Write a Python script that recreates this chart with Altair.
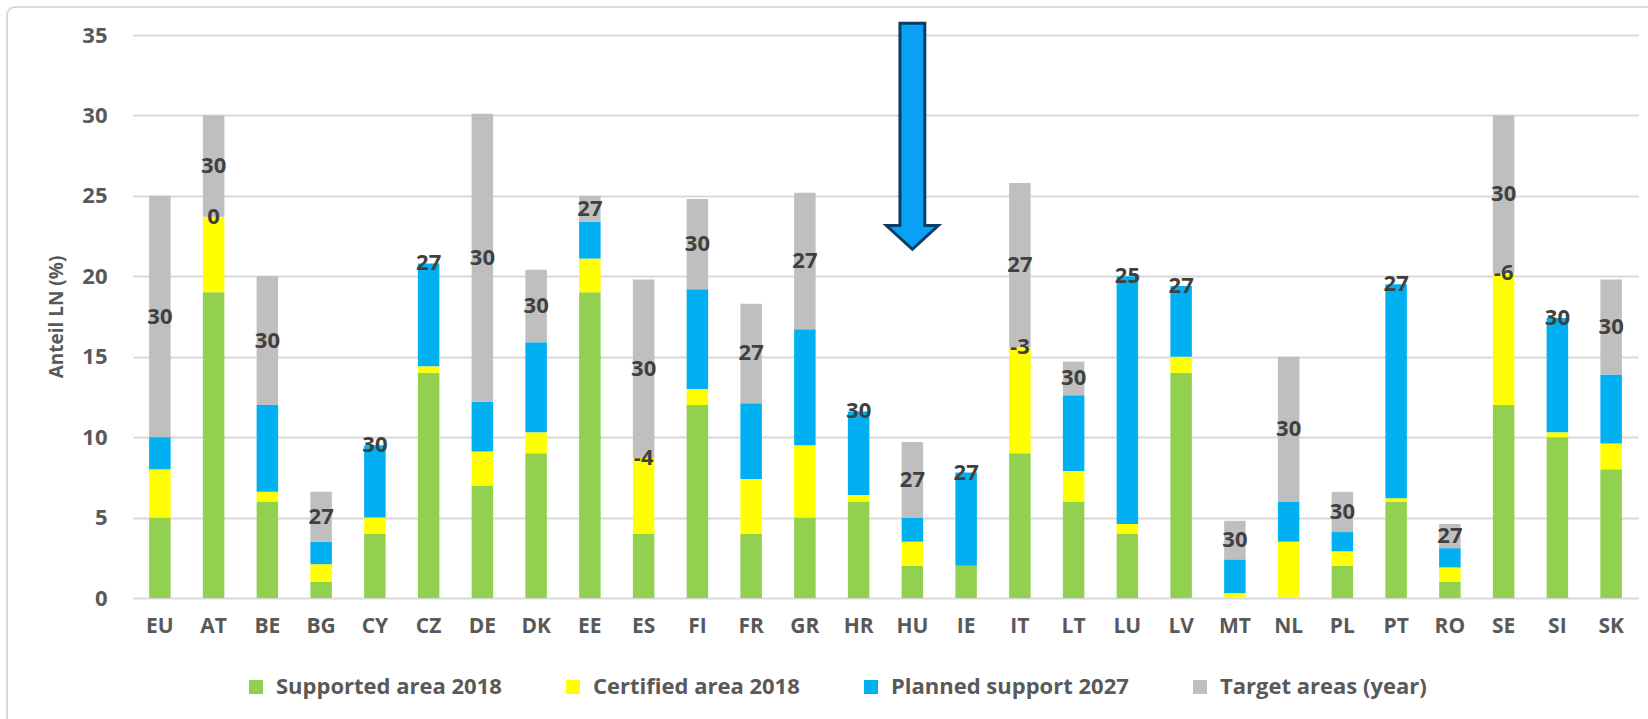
import altair as alt
import pandas as pd

countries = ["EU", "AT", "BE", "BG", "CY", "CZ", "DE", "DK", "EE", "ES", "FI", "FR", "GR", "HR",
             "HU", "IE", "IT", "LT", "LU", "LV", "MT", "NL", "PL", "PT", "RO", "SE", "SI", "SK"]
supported = [5, 19, 6, 1, 4, 14, 7, 9, 19, 4, 12, 4, 5, 6,
             2, 2, 9, 6, 4, 14, 0, 0, 2, 6, 1, 12, 10, 8]
certified = [3, 4.7, 0.6, 1.1, 1, 0.4, 2.1, 1.3, 2.1, 4.7, 1, 3.4, 4.5, 0.4,
             1.5, 0, 6.6, 1.9, 0.6, 1, 0.3, 3.5, 0.9, 0.2, 0.9, 8.2, 0.3, 1.6]
planned = [2, 0, 5.4, 1.4, 4.5, 6.4, 3.1, 5.6, 2.3, 0, 6.2, 4.7, 7.2, 5.2,
           1.5, 5.8, 0, 4.7, 15.4, 4.4, 2.1, 2.5, 1.2, 13.3, 1.2, 0, 7.1, 4.3]
target = [15, 6.3, 8, 3.1, 0, 0, 17.9, 4.5, 1.6, 11.1, 5.6, 6.2, 8.5, 0,
          4.7, 0, 10.2, 2.1, 0, 0, 2.4, 9, 2.5, 0, 1.5, 9.8, 0, 5.9]
target_year = ["30", "30", "30", "27", "30", "27", "30", "30", "27", "30", "30", "27", "27", "30",
               "27", "27", "27", "30", "25", "27", "30", "30", "30", "27", "27", "30", "30", "30"]
gap_countries = ["AT", "ES", "IT", "SE"]
gap_labels = ["0", "-4", "-3", "-6"]

series = ["Supported area 2018", "Certified area 2018", "Planned support 2027", "Target areas (year)"]
colors = ["#92D050", "#FFFF00", "#00B0F0", "#BFBFBF"]

arrow_country = ["HU"]
arrow_level = [28.7]

# stacked segments
rows = []
year_rows = []
for i, c in enumerate(countries):
    vals = [supported[i], certified[i], planned[i], target[i]]
    base = 0.0
    for s, v in zip(series, vals):
        rows.append({"country": c, "series": s, "y0": base, "y1": base + v})
        base += v
    blue_top = supported[i] + certified[i] + planned[i]
    year_rows.append({"country": c, "ypos": (blue_top + base) / 2, "label": target_year[i]})
df = pd.DataFrame(rows)
df_year = pd.DataFrame(year_rows)

gap_rows = []
for c, lab in zip(gap_countries, gap_labels):
    i = countries.index(c)
    gap_rows.append({"country": c, "ypos": supported[i] + certified[i] + planned[i] / 2, "label": lab})
df_gap = pd.DataFrame(gap_rows)

df_arrow = pd.DataFrame({"country": arrow_country, "level": arrow_level})

FONT = "Open Sans"

x_enc = alt.X("country:N", sort=countries,
              scale=alt.Scale(paddingInner=0.6, paddingOuter=0.3),
              axis=alt.Axis(title=None, labelAngle=0, labelFontSize=21, labelFont=FONT,
                            labelFontWeight="bold", labelColor="#595959", labelPadding=17,
                            ticks=False, domain=False, grid=False))
y_scale = alt.Scale(domain=[0, 35], nice=False)

border = alt.Chart(pd.DataFrame({"a": [0]})).mark_rect(
    fillOpacity=0, stroke="#D9D9D9", strokeWidth=2, cornerRadius=8
).encode(x=alt.value(-126), x2=alt.value(1540), y=alt.value(-28), y2=alt.value(700))

bars = alt.Chart(df).mark_bar().encode(
    x=x_enc,
    y=alt.Y("y0:Q", scale=y_scale,
            axis=alt.Axis(title="Anteil LN (%)", values=[0, 5, 10, 15, 20, 25, 30, 35],
                          labelFontSize=22, labelFont=FONT, labelFontWeight="bold",
                          labelColor="#595959", labelPadding=26, ticks=False, domain=False,
                          grid=True, gridColor="#D9D9D9", gridWidth=2,
                          titleFontSize=19, titleFont=FONT, titleFontWeight="bold",
                          titleColor="#595959", titlePadding=15)),
    y2="y1:Q",
    color=alt.Color("series:N", scale=alt.Scale(domain=series, range=colors),
                    legend=alt.Legend(title=None, orient="none", legendX=112, legendY=641,
                                      direction="horizontal", columns=4, columnPadding=60,
                                      labelFontSize=22, labelFont=FONT, labelFontWeight="bold",
                                      labelColor="#595959", labelLimit=400, symbolType="square",
                                      symbolSize=196, symbolStrokeWidth=0, labelOffset=9)),
)

year_text = alt.Chart(df_year).mark_text(
    fontSize=22, font=FONT, fontWeight="bold", color="#404040", baseline="middle"
).encode(x=alt.X("country:N", sort=countries), y=alt.Y("ypos:Q", scale=y_scale), text="label:N")

gap_text = alt.Chart(df_gap).mark_text(
    fontSize=22, font=FONT, fontWeight="bold", color="#404040", baseline="middle"
).encode(x=alt.X("country:N", sort=countries), y=alt.Y("ypos:Q", scale=y_scale), text="label:N")

arrow_path = "M -0.11 -1 L 0.11 -1 L 0.11 0.79 L 0.23 0.79 L 0 1 L -0.23 0.79 L -0.11 0.79 Z"
arrow = alt.Chart(df_arrow).mark_point(
    shape=arrow_path, size=51076, filled=True, fill="#0AA0F5", stroke="#0B3C66",
    strokeWidth=3, opacity=1, fillOpacity=1, strokeOpacity=1
).encode(x=alt.X("country:N", sort=countries), y=alt.Y("level:Q", scale=y_scale))

chart = alt.layer(border, bars, year_text, gap_text, arrow).properties(
    width=1505, height=563,
    padding={"left": 133, "top": 35, "right": 10, "bottom": 121},
    autosize=alt.AutoSizeParams(type="none"),
    background="white",
).configure_view(stroke=None)

chart.save("out.html", embed_options={"renderer": "svg", "actions": False})
